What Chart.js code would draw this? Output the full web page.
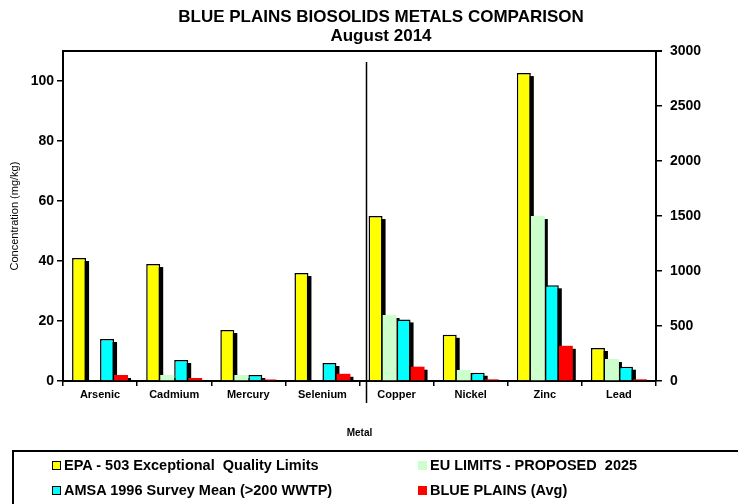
<!DOCTYPE html>
<html>
<head>
<meta charset="utf-8">
<script src="https://cdn.jsdelivr.net/npm/chart.js@4.4.1/dist/chart.umd.min.js"></script>
<style>
  body { margin: 0; background: #fff; }
  #wrap { position: relative; width: 738px; height: 504px; overflow: hidden; }
  #legend { position: absolute; left: 12px; top: 450px; width: 760px; height: 80px; border: 2px solid #000; box-sizing: border-box; }
  .item { position: absolute; height: 16px; display: flex; align-items: center; white-space: pre;
          font: bold 14.5px "Liberation Sans", Arial, sans-serif; color: #000; }
  .swatch { width: 9px; height: 9px; margin-right: 3px; box-sizing: border-box; }
</style>
</head>
<body>
<div id="wrap">
  <canvas id="graficoMetales" width="738" height="504"></canvas>
  <div id="legend"></div>
</div>
<script>
// metales: los 4 primeros se leen en el eje izquierdo, el resto en el derecho
const metals = ['Arsenic', 'Cadmium', 'Mercury', 'Selenium', 'Copper', 'Nickel', 'Zinc', 'Lead'];
const leftCount = 4;

const epaLimits  = [41, 39, 17, 36, 1500, 420, 2800, 300];
const euLimits   = [0, 2, 2, 0, 600, 100, 1500, 200];
const amsaMean   = [14, 7, 2, 6, 560, 75, 870, 130];
const bluePlains = [2, 1, 0.5, 2.4, 130, 15, 320, 15];

const seriesLabels = [
  'EPA - 503 Exceptional  Quality Limits',
  'EU LIMITS - PROPOSED  2025',
  'AMSA 1996 Survey Mean (>200 WWTP)',
  'BLUE PLAINS (Avg)'
];
const seriesValues = [epaLimits, euLimits, amsaMean, bluePlains];

const leftTicks  = [0, 20, 40, 60, 80, 100];
const rightTicks = [0, 500, 1000, 1500, 2000, 2500, 3000];

// estilos de cada serie
const colores  = ['#FFFF00', '#CCFFCC', '#00FFFF', '#FF0000'];
const conBorde = [true, false, true, false];

const FONT = '"Liberation Sans", Arial, sans-serif';
Chart.defaults.font.family = FONT;
Chart.defaults.color = '#000';

// cada serie va en dos datasets (uno por eje) que comparten el mismo hueco
const datasets = [];
seriesValues.forEach((vals, i) => {
  const base = {
    label: seriesLabels[i],
    backgroundColor: colores[i],
    borderColor: '#000',
    borderWidth: conBorde[i] ? 1.5 : 0,
    stack: 'serie' + i,
    categoryPercentage: 0.755,
    barPercentage: 1,
    clip: 0
  };
  datasets.push(Object.assign({}, base, {
    yAxisID: 'y',
    data: vals.map((v, j) => j < leftCount ? v : null)
  }));
  datasets.push(Object.assign({}, base, {
    yAxisID: 'y2',
    data: vals.map((v, j) => j >= leftCount ? v : null)
  }));
});

// sombra negra desplazada detras de cada barra
const sombras = {
  id: 'sombras',
  beforeDatasetsDraw(chart) {
    const {ctx, chartArea: a} = chart;
    ctx.save();
    ctx.beginPath();
    ctx.rect(a.left, a.top, a.right - a.left, a.bottom - a.top);
    ctx.clip();
    ctx.fillStyle = '#000';
    chart.data.datasets.forEach((ds, i) => {
      chart.getDatasetMeta(i).data.forEach(bar => {
        const p = bar.getProps(['x', 'y', 'base', 'width'], true);
        if (!isFinite(p.y) || p.base - p.y < 0.5) return;
        ctx.fillRect(p.x - p.width / 2 + 3, p.y + 3, p.width, p.base - p.y);
      });
    });
    ctx.restore();
  }
};

// marco superior y linea que separa los dos grupos de metales
const marco = {
  id: 'marco',
  afterDraw(chart) {
    const {ctx, chartArea: a, scales} = chart;
    ctx.save();
    ctx.strokeStyle = '#000';
    ctx.lineWidth = 2;
    ctx.beginPath();
    ctx.moveTo(a.left - 1, a.top);
    ctx.lineTo(a.right + 6, a.top);
    ctx.stroke();
    const xs = scales.x;
    const sep = (xs.getPixelForValue(leftCount - 1) + xs.getPixelForValue(leftCount)) / 2 + 7;
    ctx.lineWidth = 1.5;
    ctx.beginPath();
    ctx.moveTo(sep, a.top + 11);
    ctx.lineTo(sep, a.bottom + 22);
    ctx.stroke();
    ctx.restore();
  }
};

const ejeY = (pos, ticks, max, width, pad) => ({
  type: 'linear',
  position: pos,
  min: 0,
  max: max,
  stacked: false,
  z: 1,
  grid: { drawOnChartArea: false, drawTicks: true, tickLength: 6, color: '#000', lineWidth: 1.5 },
  border: { display: true, color: '#000', width: 2 },
  ticks: {
    color: '#000',
    padding: pad,
    font: { size: 14, weight: 'bold' },
    callback: v => String(v)
  },
  afterBuildTicks(scale) { scale.ticks = ticks.map(v => ({ value: v })); },
  afterFit(scale) { scale.width = width; }
});

const yIzq = ejeY('left', leftTicks, 110, 63, 3);
yIzq.title = {
  display: true,
  text: 'Concentration (mg/kg)',
  color: '#000',
  font: { size: 11 },
  padding: { top: 8, bottom: 0 }
};
const yDer = ejeY('right', rightTicks, 3000, 106, 8);

new Chart(document.getElementById('graficoMetales').getContext('2d'), {
  type: 'bar',
  data: { labels: metals, datasets: datasets },
  options: {
    responsive: false,
    animation: false,
    layout: { padding: { left: 0, right: -24, top: 0, bottom: 63 } },
    plugins: {
      legend: { display: false },
      tooltip: { enabled: false },
      title: {
        display: true,
        text: ['BLUE PLAINS BIOSOLIDS METALS COMPARISON', 'August 2014'],
        color: '#000',
        font: { size: 17, weight: 'bold', lineHeight: 1.12 },
        padding: { top: 7.5, bottom: 5.5 }
      }
    },
    scales: {
      x: {
        stacked: true,
        offset: true,
        z: 1,
        grid: { offset: true, drawOnChartArea: false, drawTicks: true, tickLength: 5, color: '#000', lineWidth: 1.5 },
        border: { display: true, color: '#000', width: 2 },
        ticks: { color: '#000', padding: 2, autoSkip: false, maxRotation: 0, font: { size: 11, weight: 'bold' } },
        title: {
          display: true,
          text: 'Metal',
          color: '#000',
          font: { size: 10, weight: 'bold' },
          padding: { top: 0, bottom: 2 }
        },
        afterFit(scale) { scale.height = 60; }
      },
      y: yIzq,
      y2: yDer
    }
  },
  plugins: [sombras, marco]
});

// leyenda en recuadro, dos columnas
const legendPos = [[38, 5], [404, 5], [38, 30], [404, 30]];
const legend = document.getElementById('legend');
seriesLabels.forEach((txt, i) => {
  const item = document.createElement('div');
  item.className = 'item';
  item.style.left = legendPos[i][0] + 'px';
  item.style.top = legendPos[i][1] + 'px';
  const sw = document.createElement('span');
  sw.className = 'swatch';
  sw.style.background = colores[i];
  if (conBorde[i]) sw.style.border = '1.5px solid #000';
  item.appendChild(sw);
  item.appendChild(document.createTextNode(txt));
  legend.appendChild(item);
});
</script>
</body>
</html>
